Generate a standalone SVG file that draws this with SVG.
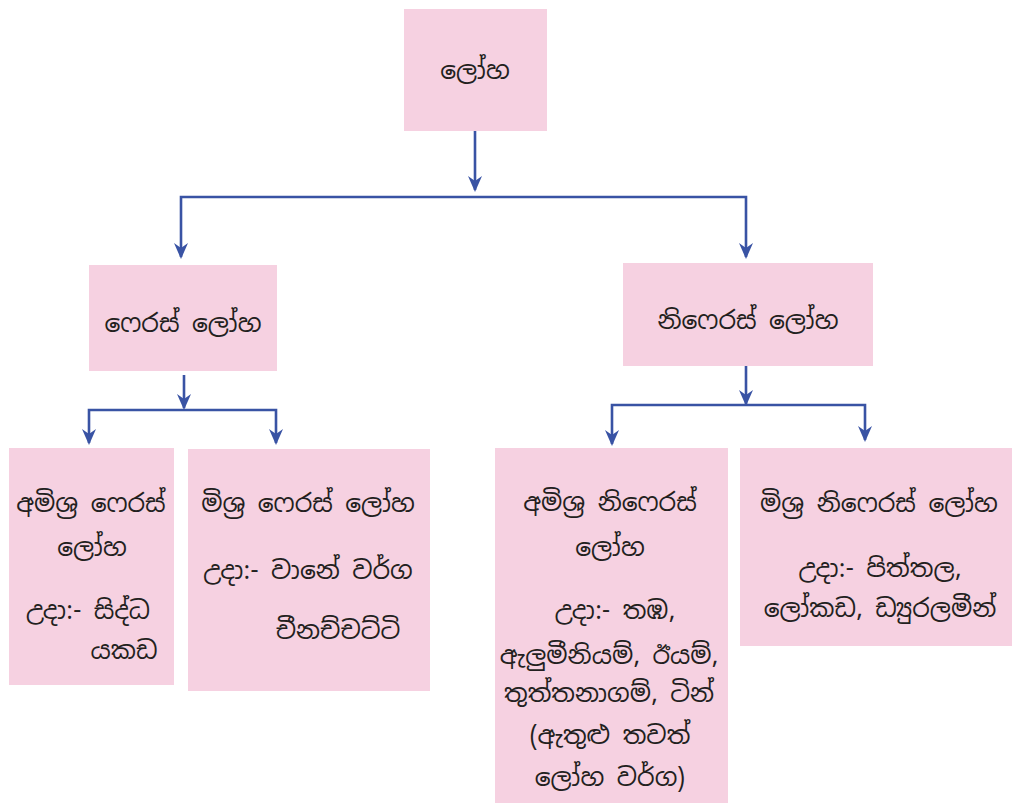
<svg xmlns="http://www.w3.org/2000/svg" width="1022" height="803" viewBox="0 0 1022 803">
<defs>
<style>
.box{fill:#f6d1e1;}
.t{font-family:"Noto Sans Sinhala","Noto Serif Sinhala","Iskoola Pota","Noto Sans",sans-serif;font-size:25px;fill:#231f20;text-anchor:middle;}
.ln{fill:none;stroke:#3953a4;stroke-width:2.6;}
</style>
<marker id="ah" markerWidth="14" markerHeight="16" viewBox="0 0 14 16" refX="7" refY="15" orient="auto-start-reverse" markerUnits="userSpaceOnUse">
<path d="M0,0 L7,4 L14,0 L7,16 Z" fill="#3953a4"/>
</marker>
</defs>
<rect width="1022" height="803" fill="#ffffff"/>
<g id="connectors">
<path class="ln" d="M475,131 V190"/>
<path class="ln" d="M181,257 V197 H746 V257"/>
<path class="ln" d="M184,375 V408"/>
<path class="ln" d="M89,443 V410 H276 V443"/>
<path class="ln" d="M746,366 V405"/>
<path class="ln" d="M612,444 V405 H865 V440"/>
<g fill="#3953a4">
<path d="M468,176 L475,181 L482,176 L475,192 Z"/>
<path d="M174,243 L181,248 L188,243 L181,259 Z"/>
<path d="M739,243 L746,248 L753,243 L746,259 Z"/>
<path d="M177,394 L184,399 L191,394 L184,410 Z"/>
<path d="M82,429 L89,434 L96,429 L89,445 Z"/>
<path d="M269,429 L276,434 L283,429 L276,445 Z"/>
<path d="M739,390 L746,395 L753,390 L746,406 Z"/>
<path d="M605,430 L612,435 L619,430 L612,446 Z"/>
<path d="M858,426 L865,431 L872,426 L865,442 Z"/>
</g>
</g>
<g id="n-loha">
<rect class="box" x="404" y="9" width="143" height="122"/>
<text class="t" x="475" y="79">ලෝහ</text>
</g>
<g id="n-ferrous">
<rect class="box" x="89" y="265" width="188" height="106"/>
<text class="t" x="183" y="332">ෆෙරස් ලෝහ</text>
</g>
<g id="n-nonferrous">
<rect class="box" x="623" y="263" width="250" height="103"/>
<text class="t" x="748" y="329">නිෆෙරස් ලෝහ</text>
</g>
<g id="n-pure-ferrous">
<rect class="box" x="9" y="448" width="165" height="237"/>
<text class="t" x="91" y="512">අමිශ්‍ර ෆෙරස්</text>
<text class="t" x="92" y="556">ලෝහ</text>
<text class="t" x="88" y="619">උදා:- සිද්ධ</text>
<text class="t" x="124" y="659">යකඩ</text>
</g>
<g id="n-alloy-ferrous">
<rect class="box" x="188" y="449" width="242" height="242"/>
<text class="t" x="308" y="512">මිශ්‍ර ෆෙරස් ලෝහ</text>
<text class="t" x="308" y="579">උදා:- වානේ වර්ග</text>
<text class="t" x="338" y="639">චීනච්චට්ටි</text>
</g>
<g id="n-pure-nonferrous">
<rect class="box" x="495" y="448" width="233" height="355"/>
<text class="t" x="610" y="511">අමිශ්‍ර නිෆෙරස්</text>
<text class="t" x="610" y="556">ලෝහ</text>
<text class="t" x="615" y="619">උදා:- තඹ,</text>
<text class="t" x="609" y="664">ඇලුමීනියම්, ඊයම්,</text>
<text class="t" x="609" y="702">තුත්තනාගම්, ටින්</text>
<text class="t" x="610" y="744">(ඇතුළු තවත්</text>
<text class="t" x="610" y="786">ලෝහ වර්ග)</text>
</g>
<g id="n-alloy-nonferrous">
<rect class="box" x="740" y="448" width="272" height="198"/>
<text class="t" x="879" y="512">මිශ්‍ර නිෆෙරස් ලෝහ</text>
<text class="t" x="880" y="577">උදා:- පිත්තල,</text>
<text class="t" x="880" y="617">ලෝකඩ, ඩ්‍යුරලමීන්</text>
</g>
</svg>
